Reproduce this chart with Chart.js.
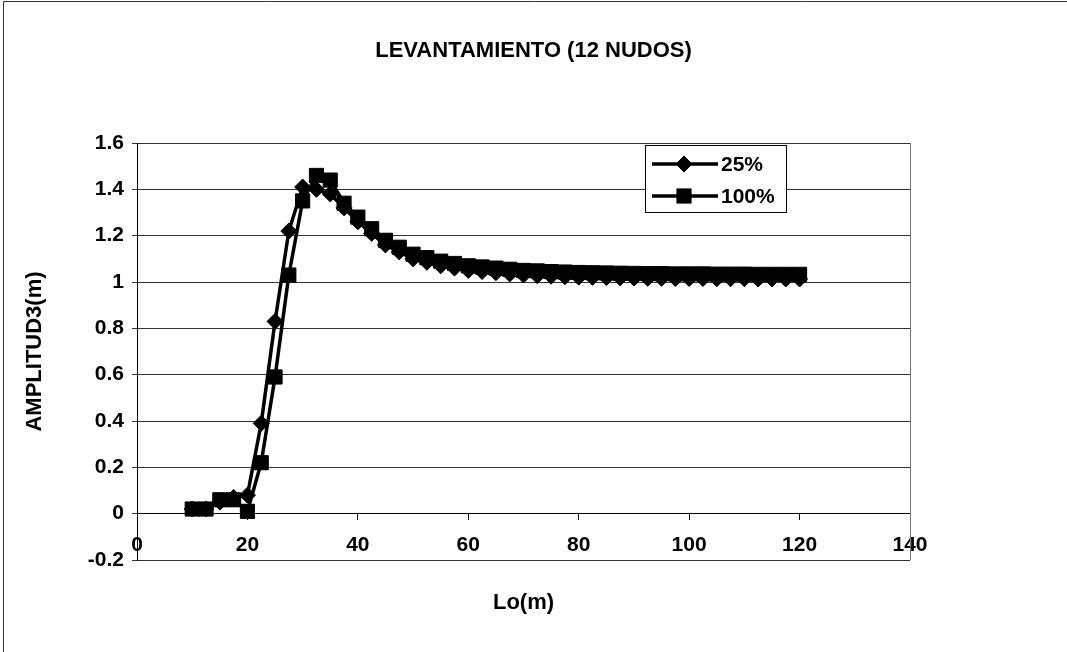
<!DOCTYPE html>
<html>
<head>
<meta charset="utf-8">
<script src="https://cdn.jsdelivr.net/npm/chart.js@4/dist/chart.umd.min.js"></script>
<style>
  html, body { margin: 0; padding: 0; background: #fff; }
  #wrap { position: relative; width: 1067px; height: 652px; }
</style>
</head>
<body>
<div id="wrap"><canvas id="chart" width="1067" height="652"></canvas></div>
<script>
// Lo (m) en el eje X
const loValues = [10, 12.5, 15, 17.5, 20, 22.5, 25, 27.5, 30, 32.5, 35, 37.5, 40, 42.5, 45, 47.5,
  50, 52.5, 55, 57.5, 60, 62.5, 65, 67.5, 70, 72.5, 75, 77.5, 80, 82.5, 85, 87.5,
  90, 92.5, 95, 97.5, 100, 102.5, 105, 107.5, 110, 112.5, 115, 117.5, 120];

// Amplitud para cada serie
const amp25 = [0.02, 0.02, 0.05, 0.07, 0.08, 0.39, 0.83, 1.22, 1.41, 1.40, 1.38, 1.32, 1.26, 1.21, 1.16, 1.13,
  1.10, 1.085, 1.07, 1.06, 1.05, 1.045, 1.04, 1.035, 1.03, 1.027, 1.025, 1.023, 1.021, 1.02, 1.019, 1.018,
  1.017, 1.016, 1.016, 1.015, 1.015, 1.015, 1.014, 1.014, 1.014, 1.013, 1.013, 1.013, 1.013];
const amp100 = [0.02, 0.02, 0.06, 0.06, 0.01, 0.22, 0.59, 1.03, 1.35, 1.46, 1.44, 1.34, 1.28, 1.23, 1.18, 1.15,
  1.12, 1.105, 1.09, 1.08, 1.07, 1.065, 1.06, 1.055, 1.05, 1.048, 1.045, 1.043, 1.041, 1.04, 1.039, 1.038,
  1.037, 1.036, 1.036, 1.035, 1.035, 1.035, 1.034, 1.034, 1.034, 1.033, 1.033, 1.033, 1.033];

const seriesLabels = ['25%', '100%'];
const yTickValues = [-0.2, 0, 0.2, 0.4, 0.6, 0.8, 1, 1.2, 1.4, 1.6];
const xTickValues = [0, 20, 40, 60, 80, 100, 120, 140];

const FONT = "'Liberation Sans', Arial, sans-serif";
Chart.defaults.font.family = FONT;
Chart.defaults.color = '#000';

function toPoints(ys) {
  return loValues.map((x, i) => ({ x: x, y: ys[i] }));
}

// marco exterior + borde derecho del área de trazado
const framePlugin = {
  id: 'frame',
  beforeDraw(chart) {
    const ctx = chart.ctx;
    ctx.save();
    ctx.fillStyle = '#fff';
    ctx.fillRect(0, 0, chart.width, chart.height);
    ctx.strokeStyle = '#333';
    ctx.lineWidth = 1;
    ctx.beginPath();
    ctx.moveTo(3.5, chart.height);
    ctx.lineTo(3.5, 1.5);
    ctx.lineTo(chart.width, 1.5);
    ctx.stroke();
    ctx.restore();
  },
  beforeDatasetsDraw(chart) {
    const a = chart.chartArea;
    const ctx = chart.ctx;
    ctx.save();
    ctx.strokeStyle = '#777';
    ctx.lineWidth = 1;
    ctx.beginPath();
    ctx.moveTo(Math.round(a.right) + 0.5, a.top);
    ctx.lineTo(Math.round(a.right) + 0.5, a.bottom);
    ctx.stroke();
    ctx.restore();
  }
};

// leyenda tipo Excel dentro del área de trazado
const boxLegend = {
  id: 'boxLegend',
  afterDraw(chart) {
    const ctx = chart.ctx;
    ctx.save();
    ctx.fillStyle = '#fff';
    ctx.fillRect(645, 145, 141, 67);
    ctx.strokeStyle = '#000';
    ctx.lineWidth = 1;
    ctx.strokeRect(645.5, 145.5, 141, 67);
    chart.data.datasets.forEach((ds, i) => {
      const y = 164 + i * 32;
      ctx.strokeStyle = '#000';
      ctx.lineWidth = 3.5;
      ctx.beginPath();
      ctx.moveTo(652, y);
      ctx.lineTo(718, y);
      ctx.stroke();
      ctx.fillStyle = '#000';
      ctx.lineWidth = 1;
      Chart.helpers.drawPoint(ctx, {
        pointStyle: ds.pointStyle, radius: ds.pointRadius, borderWidth: 1
      }, 684, y);
      ctx.fillStyle = '#000';
      ctx.font = 'bold 21px ' + FONT;
      ctx.textBaseline = 'middle';
      ctx.textAlign = 'left';
      ctx.fillText(ds.label, 721, y + 1);
    });
    ctx.restore();
  }
};

const ctx = document.getElementById('chart').getContext('2d');
new Chart(ctx, {
  type: 'line',
  data: {
    datasets: [{
      label: seriesLabels[0],
      data: toPoints(amp25),
      borderColor: '#000',
      backgroundColor: '#000',
      borderWidth: 3.5,
      pointStyle: 'rectRot',
      pointRadius: 8,
      pointBorderWidth: 1,
      tension: 0,
      order: 1
    }, {
      label: seriesLabels[1],
      data: toPoints(amp100),
      borderColor: '#000',
      backgroundColor: '#000',
      borderWidth: 3.5,
      pointStyle: 'rect',
      pointRadius: 10,
      pointBorderWidth: 1,
      tension: 0,
      order: 0
    }]
  },
  options: {
    responsive: false,
    animation: false,
    layout: { padding: 0 },
    scales: {
      x: {
        type: 'linear',
        position: 'bottom',
        min: 0,
        max: 140,
        ticks: { display: false },
        grid: { display: false },
        border: { display: false },
        title: {
          display: true,
          text: 'Lo(m)',
          font: { size: 22, weight: 'bold' },
          padding: { top: 0, bottom: 36 }
        },
        afterFit(scale) { scale.height = 92; }
      },
      x2: {
        type: 'linear',
        position: { y: 0 },
        min: 0,
        max: 140,
        afterBuildTicks(scale) { scale.ticks = xTickValues.map(v => ({ value: v })); },
        ticks: {
          font: { size: 21, weight: 'bold' },
          padding: 13,
          maxRotation: 0,
          callback: v => String(v)
        },
        grid: { drawOnChartArea: false, tickLength: 6, color: '#000' },
        border: { color: '#000', width: 1 }
      },
      y: {
        type: 'linear',
        min: -0.2,
        max: 1.6,
        afterBuildTicks(scale) { scale.ticks = yTickValues.map(v => ({ value: v })); },
        ticks: {
          font: { size: 21, weight: 'bold' },
          padding: 8,
          callback: v => String(Math.round(v * 10) / 10)
        },
        grid: { color: '#333', tickLength: 5 },
        border: { color: '#000', width: 1 },
        title: {
          display: true,
          text: 'AMPLITUD3(m)',
          font: { size: 22, weight: 'bold' },
          padding: { top: 22, bottom: 0 }
        },
        afterFit(scale) { scale.width = 137; }
      },
      // eje vacío a la derecha, solo para reservar el margen
      yR: {
        type: 'linear',
        position: 'right',
        display: true,
        ticks: { display: false },
        grid: { display: false },
        border: { display: false },
        afterFit(scale) { scale.width = 157; }
      }
    },
    plugins: {
      legend: { display: false },
      tooltip: { enabled: false },
      title: {
        display: true,
        text: 'LEVANTAMIENTO (12 NUDOS)',
        font: { size: 22, weight: 'bold' },
        color: '#000',
        padding: { top: 38, bottom: 78.6 }
      }
    }
  },
  plugins: [framePlugin, boxLegend]
});
</script>
</body>
</html>
